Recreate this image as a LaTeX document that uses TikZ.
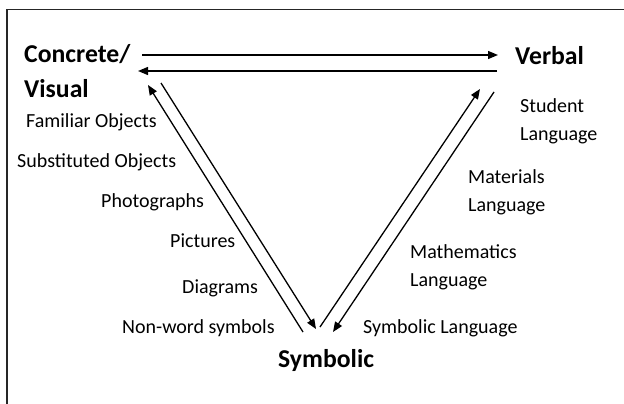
\documentclass[tikz,border=0pt]{standalone}
\usepackage{fontspec}
\setmainfont{Carlito}
\usetikzlibrary{arrows.meta}
\begin{document}
\begin{tikzpicture}[x=1pt,y=-1pt,
  lbl/.style={font=\fontsize{20}{22}\selectfont, anchor=base west, inner sep=0pt, text=black},
  hdr/.style={font=\fontsize{25.7}{27}\selectfont\bfseries, anchor=base west, inner sep=0pt, text=black},
  conn/.style={line width=1.3pt, draw=black, -{Triangle[length=10pt,width=8pt]}},
  frame/.style={line width=1.8pt, draw=black!85}]
\useasboundingbox (0,0) rectangle (624,404);
% frame (top and left edges visible)
\coordinate (f1) at (624,9.5);
\coordinate (f2) at (7,9.5);
\coordinate (f3) at (7,404);
\draw[frame] (f1) -- (f2) -- (f3);
% headings
\node[hdr] (cv1) at (24,63) {Concrete/};
\node[hdr] (cv2) at (24,97) {Visual};
\node[hdr] (verbal) at (515,65) {Verbal};
\node[hdr] (symb) at (278,367) {Symbolic};
% left labels
\node[lbl] (fam) at (26,128) {Familiar Objects};
\node[lbl] (sub) at (17,167) {Substituted Objects};
\node[lbl] (pho) at (101,207) {Photographs};
\node[lbl] (pic) at (170,247) {Pictures};
\node[lbl] (dia) at (182,293) {Diagrams};
\node[lbl] (non) at (122,333) {Non-word symbols};
% right labels
\node[lbl] (stu) at (520,113) {Student};
\node[lbl] (stul) at (520,140) {Language};
\node[lbl] (mat) at (468,183) {Materials};
\node[lbl] (matl) at (468,211) {Language};
\node[lbl] (mth) at (410,258) {Mathematics};
\node[lbl] (mthl) at (410,286) {Language};
\node[lbl] (sym) at (363,333) {Symbolic Language};
% arrow end points
\coordinate (h1s) at (142,55);  \coordinate (h1e) at (498,55);
\coordinate (h2s) at (497,71);  \coordinate (h2e) at (138,71);
\coordinate (l1s) at (303,332); \coordinate (l1e) at (148,85);
\coordinate (l2s) at (161,83);  \coordinate (l2e) at (316,329);
\coordinate (r1s) at (320,327); \coordinate (r1e) at (480,89);
\coordinate (r2s) at (494,92);  \coordinate (r2e) at (333,332);
\draw[conn] (h1s) -- (h1e);
\draw[conn] (h2s) -- (h2e);
\draw[conn] (l1s) -- (l1e);
\draw[conn] (l2s) -- (l2e);
\draw[conn] (r1s) -- (r1e);
\draw[conn] (r2s) -- (r2e);
\end{tikzpicture}
\end{document}
